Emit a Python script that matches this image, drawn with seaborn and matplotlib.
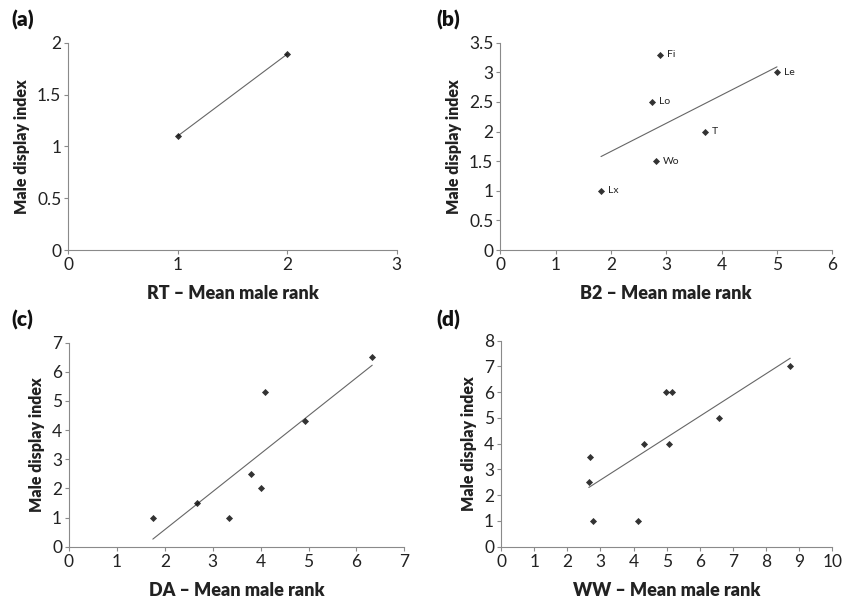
import numpy as np
import pandas as pd
import matplotlib
matplotlib.use("Agg")
import matplotlib.pyplot as plt
import seaborn as sns

# ---- data ----
a_rank = [1.0, 2.0]
a_index = [1.1, 1.89]

b_groups = ["Lx", "Fi", "Lo", "Wo", "T", "Le"]
b_rank = [1.82, 2.88, 2.75, 2.82, 3.70, 5.00]
b_index = [1.0, 3.3, 2.5, 1.5, 2.0, 3.0]

c_rank = [1.75, 2.67, 3.33, 3.80, 4.00, 4.10, 4.92, 6.33]
c_index = [1.0, 1.5, 1.0, 2.5, 2.0, 5.3, 4.3, 6.5]

d_rank = [2.65, 2.68, 2.78, 4.15, 4.33, 4.97, 5.07, 5.15, 6.58, 8.73]
d_index = [2.5, 3.5, 1.0, 1.0, 4.0, 6.0, 4.0, 6.0, 5.0, 7.0]

panels = ["(a)", "(b)", "(c)", "(d)"]
xlabels = ["RT \u2013 Mean male rank", "B2 \u2013 Mean male rank",
           "DA \u2013 Mean male rank", "WW \u2013 Mean male rank"]
ylabel = "Male display index"
xlims = [(0, 3), (0, 6), (0, 7), (0, 10)]
ylims = [(0, 2), (0, 3.5), (0, 7), (0, 8)]
xticks = [np.arange(0, 4, 1), np.arange(0, 7, 1), np.arange(0, 8, 1), np.arange(0, 11, 1)]
yticks = [np.arange(0, 2.01, 0.5), np.arange(0, 3.51, 0.5), np.arange(0, 8, 1), np.arange(0, 9, 1)]

sns.set_theme(style="white")
plt.rcParams["font.family"] = ["Lato", "DejaVu Sans"]

fig = plt.figure(figsize=(8.51, 6.01), dpi=100)
W, H = 851.0, 601.0
boxes = [
    (68.3, 42.7, 396.7, 250.0),
    (500.3, 42.7, 832.3, 250.0),
    (69.0, 342.7, 404.3, 546.7),
    (501.0, 340.7, 832.3, 546.7),
]
datasets = [(a_rank, a_index), (b_rank, b_index), (c_rank, c_index), (d_rank, d_index)]
label_pos = [(11, 20), (436, 20), (11, 320), (436, 320)]

grey = "#8a8a8a"
for i, ((x0, y0, x1, y1), (xs, ys)) in enumerate(zip(boxes, datasets)):
    ax = fig.add_axes([x0 / W, 1 - y1 / H, (x1 - x0) / W, (y1 - y0) / H])
    df = pd.DataFrame({"rank": xs, "index": ys})
    sns.regplot(data=df, x="rank", y="index", ax=ax, ci=None, truncate=True,
                marker="D",
                scatter_kws={"s": 13, "color": "black", "linewidths": 0, "zorder": 3},
                line_kws={"color": "#666666", "linewidth": 0.8, "zorder": 2})
    ax.set_xlim(*xlims[i])
    ax.set_ylim(*ylims[i])
    ax.set_xticks(xticks[i])
    ax.set_yticks(yticks[i])
    ax.set_xticklabels([f"{v:g}" for v in xticks[i]])
    ax.set_yticklabels([f"{v:g}" for v in yticks[i]])
    for s in ["top", "right"]:
        ax.spines[s].set_visible(False)
    for s in ["left", "bottom"]:
        ax.spines[s].set_color(grey)
        ax.spines[s].set_linewidth(0.8)
    ax.tick_params(axis="both", which="both", direction="out", length=3, width=0.8,
                   color=grey, labelsize=12.5, labelcolor="#222222", pad=2,
                   left=True, bottom=True)
    ax.set_xlabel(xlabels[i], fontsize=13, fontweight="heavy", color="#222222", labelpad=9)
    ax.set_ylabel(ylabel, fontsize=11.5, fontweight="heavy", color="#222222", labelpad=5)
    ax.grid(False)
    if i == 1:
        for g, xv, yv in zip(b_groups, b_rank, b_index):
            ax.annotate(g, (xv, yv), xytext=(5, 0), textcoords="offset points",
                        fontsize=7.5, va="center", ha="left", color="#222222")
    fig.text(label_pos[i][0] / W, 1 - label_pos[i][1] / H, panels[i],
             fontsize=15, fontweight="heavy", va="center", ha="left", color="#111111")

fig.savefig("out.png", dpi=100)
